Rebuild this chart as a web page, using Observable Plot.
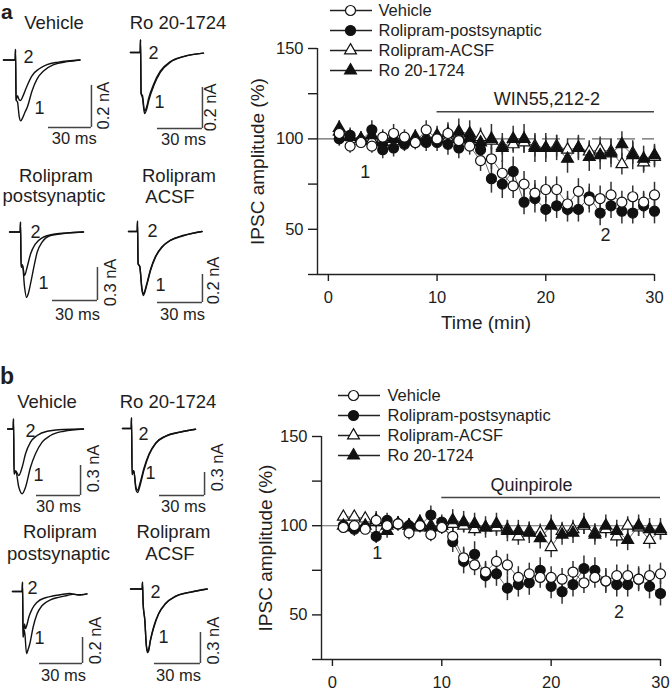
<!DOCTYPE html>
<html><head><meta charset="utf-8">
<script src="https://cdn.jsdelivr.net/npm/d3@7"></script>
<script src="https://cdn.jsdelivr.net/npm/@observablehq/plot@0.6"></script>
<style>
body{margin:0;background:#fff;}
#fig{position:relative;width:672px;height:694px;overflow:hidden;font-family:"Liberation Sans",Arial,Helvetica,sans-serif;color:#1e1e1e;}
#fig svg{position:absolute;}
.lbl{position:absolute;white-space:nowrap;line-height:1;transform:translateX(-50%);}
.letter{position:absolute;font-weight:bold;line-height:normal;}
</style></head><body><div id="fig"></div>
<script>
// ---------------- DATA ----------------
const timeMin = [1,2,3,4,5,6,7,8,9,10,11,12,13,14,15,16,17,18,19,20,21,22,23,24,25,26,27,28,29,30];
const seriesNames = ["Vehicle","Rolipram-postsynaptic","Rolipram-ACSF","Ro 20-1724"];

// Panel a (WIN55,212-2)
const vehicleA = [103,96,98,96,101,103,101,98,105,100,103,99,96,88,89,81,74,75,70,72,72,64,71,66,67,69,65,68,65,69];
const postA    = [100,102,99,105,94,95,97,98,98,98,97,95,99,94,78,75,82,65,67,61,63,61,61,68,59,63,60,59,63,60];
const acsfA    = [104,101,100,99,100,101,99,100,101,100,100,101,100,101,99,96,97,98,96,95,96,94,95,93,94,93,86,92,87,90];
const roA      = [106,101,100,102,98,100,99,101,100,102,103,104,103,98,100,95,100,100,95,95,95,89,95,90,91,92,97,91,89,91];
const semVehicleA = [4,4,3,4,4,5,4,4,5,4,5,5,5,6,6,7,7,7,7,7,7,7,7,7,7,7,6,6,6,7];
const semPostA    = [4,4,4,5,5,5,4,4,5,5,6,6,6,7,8,8,8,7,8,7,7,7,7,7,7,7,7,6,7,7];
const semAcsfA    = [3,3,3,3,3,3,3,3,3,4,4,4,4,5,5,5,5,6,6,6,6,6,6,6,7,7,6,6,6,6];
const semRoA      = [4,4,4,4,4,4,4,4,5,5,6,7,7,7,8,8,7,8,8,8,7,8,7,8,8,8,7,8,7,6];

// Panel b (Quinpirole)
const vehicleB = [99,100,98,103,100,101,96,100,95,99,94,82,78,74,80,78,71,73,71,71,70,74,68,71,69,72,72,70,72,73];
const postB    = [100,98,99,94,103,101,100,100,106,102,91,80,84,72,73,65,67,68,75,66,63,67,76,75,69,67,67,70,66,62];
const acsfB    = [105,105,104,102,100,101,100,99,100,100,101,100,98,99,99,98,94,97,96,88,97,98,100,96,98,94,100,99,92,97];
const roB      = [100,99,100,103,97,101,100,102,99,100,103,102,101,99,101,97,97,96,93,100,95,96,101,95,100,97,92,100,98,98];
const semVehicleB = [3,3,3,4,3,3,4,3,4,4,5,6,6,6,6,6,6,6,6,6,6,6,6,6,6,6,6,6,6,6];
const semPostB    = [3,4,3,4,4,4,3,4,5,4,6,7,7,7,7,7,7,7,7,7,7,7,7,7,7,7,7,7,7,7];
const semAcsfB    = [3,3,3,3,3,3,3,3,3,3,4,4,4,4,5,5,5,5,5,6,5,5,5,5,5,6,5,5,5,5];
const semRoB      = [4,4,4,5,4,4,4,4,4,4,6,6,6,6,6,6,6,6,6,6,6,6,6,6,6,6,6,6,6,6];

const yTicks = [25,50,75,100,125,150];
const yTickLabels = [50,100,150];
const xTicks = [0,10,20,30];
const drugA = {label:"WIN55,212-2", start:10, end:30, level:115, tx:20.1, ty:122};
const drugB = {label:"Quinpirole", start:10, end:30, level:115.8, tx:18.2, ty:122.5};
const markersA = [{text:"1", t:3.4, v:81.4},{text:"2", t:25.5, v:46.6}];
const markersB = [{text:"1", t:4.1, v:84.4},{text:"2", t:26.2, v:51.3}];

// IPSC traces: [time (ms) from stimulus, current (nA)]; trace 1 = baseline, trace 2 = after drug
const traceVehA1 = [[-8.4,0],[-0.2,0],[0,0.05],[0.4,-0.19],[1.4,-0.2],[2.6,-0.27],[3.6,-0.29],[5,-0.275],[6.5,-0.25],[8.2,-0.225],[11.6,-0.146],[15.1,-0.09],[19.8,-0.051],[26.7,-0.022],[36,-0.008],[45,0]];
const traceVehA2 = [[-8.4,0],[-0.2,0],[0,0.05],[0.4,-0.19],[1.4,-0.17],[2.6,-0.19],[3.6,-0.193],[5,-0.175],[6.5,-0.15],[8.2,-0.121],[11.6,-0.074],[16.3,-0.043],[22,-0.022],[30,-0.01],[45,0]];
const traceRoA1 = [[-6.7,0],[-0.2,0],[0,0.063],[0.4,-0.2],[1.3,-0.22],[2.7,-0.298],[4,-0.28],[5.5,-0.234],[8.9,-0.161],[13.3,-0.096],[20,-0.047],[28.9,-0.02],[42,-0.003]];
const traceRoA2 = [[-6.7,0],[-0.2,0],[0,0.063],[0.4,-0.2],[1.3,-0.21],[2.7,-0.285],[4,-0.268],[5.5,-0.222],[8.9,-0.152],[13.3,-0.09],[20,-0.044],[28.9,-0.019],[42,-0.003]];
const tracePostA1 = [[-7.3,0],[-0.2,0],[0,0.089],[0.4,-0.32],[1.3,-0.3],[2.7,-0.5],[4,-0.595],[5.2,-0.56],[6.7,-0.47],[8.9,-0.32],[11.1,-0.184],[14.4,-0.093],[20,-0.032],[31,-0.01],[42,0]];
const tracePostA2 = [[-7.3,0],[-0.2,0],[0,0.089],[0.4,-0.32],[1.3,-0.3],[2.7,-0.395],[4.4,-0.32],[6.7,-0.2],[10,-0.107],[14.4,-0.053],[22,-0.02],[42,0]];
const traceAcsfA1 = [[-6,0],[-0.2,0],[0,0.074],[0.4,-0.23],[1.5,-0.25],[3,-0.42],[4,-0.457],[5,-0.43],[6.4,-0.374],[8.7,-0.279],[12,-0.184],[16.4,-0.112],[22,-0.064],[31,-0.029],[43,0]];
const traceAcsfA2 = [[-6,0],[-0.2,0],[0,0.074],[0.4,-0.23],[1.5,-0.25],[3,-0.41],[4,-0.445],[5,-0.42],[6.4,-0.365],[8.7,-0.27],[12,-0.178],[16.4,-0.108],[22,-0.061],[31,-0.027],[43,0]];
const traceVehB1 = [[-4,0],[-0.2,0],[0,0.1],[0.4,-0.45],[1.5,-0.42],[3.6,-0.58],[5.9,-0.648],[8.2,-0.582],[11.6,-0.382],[15,-0.248],[19.5,-0.132],[25.2,-0.065],[34.3,-0.022],[47.7,0]];
const traceVehB2 = [[-4,0],[-0.2,0],[0,0.1],[0.4,-0.45],[1.5,-0.42],[3.6,-0.465],[5.9,-0.382],[8.2,-0.248],[11.6,-0.132],[16.1,-0.065],[23,-0.022],[34,-0.005],[47.7,0]];
const traceRoB1 = [[-6,0],[-0.2,0],[0,0.14],[0.4,-0.6],[1.5,-0.55],[3,-0.8],[4,-0.835],[6,-0.72],[8.2,-0.55],[11.6,-0.35],[16,-0.2],[22.7,-0.104],[32.7,-0.048],[42.7,-0.01]];
const traceRoB2 = [[-6,0],[-0.2,0],[0,0.14],[0.4,-0.6],[1.5,-0.55],[3,-0.77],[4,-0.805],[6,-0.69],[8.2,-0.525],[11.6,-0.335],[16,-0.19],[22.7,-0.098],[32.7,-0.045],[42.7,-0.01]];
const tracePostB1 = [[-7,0],[-0.2,0],[0,0.072],[0.4,-0.35],[1.4,-0.3],[2.8,-0.477],[3.8,-0.45],[5.1,-0.402],[7.4,-0.275],[10.2,-0.172],[13.7,-0.108],[19.5,-0.064],[25,-0.045],[31.2,-0.031],[36,-0.02],[40,-0.028],[45,-0.018]];
const tracePostB2 = [[-7,0],[-0.2,0],[0,0.072],[0.4,-0.35],[1.4,-0.25],[2.1,-0.285],[3,-0.26],[4.4,-0.198],[6.8,-0.133],[10.2,-0.082],[16,-0.048],[21,-0.035],[26.5,-0.025],[33,-0.015],[38,-0.025],[45,-0.018]];
const traceAcsfB1 = [[-7.8,0],[-0.2,0],[0,0.066],[0.4,-0.143],[1.5,-0.3],[2.5,-0.55],[3.3,-0.615],[4,-0.6],[5.2,-0.5],[7.4,-0.37],[10.6,-0.24],[15,-0.143],[21.5,-0.073],[31.3,-0.031],[42.2,0]];
const traceAcsfB2 = [[-7.8,0],[-0.2,0],[0,0.066],[0.4,-0.143],[1.5,-0.3],[2.5,-0.54],[3.3,-0.6],[4,-0.585],[5.2,-0.49],[7.4,-0.36],[10.6,-0.235],[15,-0.14],[21.5,-0.07],[31.3,-0.03],[42.2,0]];

// scale bars: 30 ms and n nA
const barMs = 30;
const barNA = [0.2,0.2,0.3,0.2, 0.3,0.3,0.2,0.3];

const insetTitles = [["Vehicle"],["Ro 20-1724"],["Rolipram","postsynaptic"],["Rolipram","ACSF"],
                     ["Vehicle"],["Ro 20-1724"],["Rolipram","postsynaptic"],["Rolipram","ACSF"]];
const panelLetters = ["a","b"];

// ---------------- LAYOUT ----------------
const FONT = "'Liberation Sans', Arial, Helvetica, sans-serif";
const baseStyle = {background:"transparent", overflow:"visible", fontFamily:FONT, color:"#1e1e1e", fontSize:"16.5px"};
const fig = document.getElementById("fig");
function put(el, left, top){ el.style.left = left + "px"; el.style.top = top + "px"; fig.appendChild(el); }

const symStyles = [
  {symbol:"circle", fill:"white", r:5},
  {symbol:"circle", fill:"#111", r:5},
  {symbol:"triangle", fill:"white", r:4.4},
  {symbol:"triangle", fill:"#111", r:4.4}
];

function rows(values, sem, name){
  return timeMin.map((t,i)=>({t, v:values[i], lo:values[i]-sem[i], hi:values[i]+sem[i], s:name}));
}

function timeCourse(cfg){
  const xDom = [-1,30], yDom = [25,150];
  const series = cfg.series.map((s,k)=>rows(s.v, s.sem, seriesNames[k]));
  const all = series.flat();
  const order = [2,3,1,0];
  const marks = [
    Plot.ruleY([100], {x1:xDom[0], x2:xDom[1], stroke:"#666", strokeWidth:1.1, strokeDasharray: cfg.dashed ? "18,7" : null}),
    Plot.ruleX([xDom[0]], {y1:yDom[0], y2:yDom[1], stroke:"#222", strokeWidth:1.4}),
    Plot.ruleY([yDom[0]], {x1:xDom[0], x2:xDom[1], stroke:"#222", strokeWidth:1.4}),
    Plot.axisX({ticks:xTicks, tickSize:7, tickPadding:10, fontSize:16.5, strokeWidth:1.4, label:null}),
    Plot.axisY({ticks:yTicks, tickFormat:d => yTickLabels.includes(d) ? d : "", tickSize:9, tickPadding:5, fontSize:16.5, strokeWidth:1.4, label:null}),
    Plot.text(["IPSC amplitude (%)"], {frameAnchor:"left", dx:cfg.ylabelDx, rotate:-90, textAnchor:"middle", lineAnchor:"middle", fontSize:19}),
    Plot.ruleY([cfg.drug], {y:"level", x1:"start", x2:"end", stroke:"#444", strokeWidth:1.4}),
    Plot.text([cfg.drug], {x:"tx", y:"ty", text:"label", fontSize:18}),
    Plot.line(all, {x:"t", y:"v", z:"s", stroke:"#444", strokeWidth:0.8}),
    Plot.ruleX(all, {x:"t", y1:"lo", y2:"hi", stroke:"#333", strokeWidth:1.5}),
    ...order.map(k => Plot.dot(series[k], {x:"t", y:"v", symbol:symStyles[k].symbol, r:symStyles[k].r, fill:symStyles[k].fill, stroke:"#111", strokeWidth:1.2})),
    Plot.text(cfg.markers, {x:"t", y:"v", text:"text", fontSize:18})
  ];
  if (cfg.xlabel) marks.push(Plot.text([cfg.xlabel], {frameAnchor:"bottom", dy:48, fontSize:19, textAnchor:"middle", lineAnchor:"middle"}));
  return Plot.plot({
    width:cfg.W, height:cfg.H, marginLeft:cfg.mL, marginRight:cfg.mR, marginTop:cfg.mT, marginBottom:cfg.mB,
    x:{domain:xDom}, y:{domain:yDom},
    style:baseStyle, marks
  });
}

function legend(cfg){
  return Plot.plot({
    width:260, height:90, margin:0, style:baseStyle,
    x:{domain:[0,260], range:[0,260], axis:null},
    y:{type:"point", domain:seriesNames, range:cfg.rows, padding:0, axis:null},
    marks:[
      Plot.ruleY(seriesNames, {y:d=>d, x1:cfg.line[0], x2:cfg.line[1], stroke:"#222", strokeWidth:1.3}),
      ...seriesNames.map((n,k)=>Plot.dot([n], {y:d=>d, x:cfg.dot, symbol:symStyles[k].symbol, r:symStyles[k].r, fill:symStyles[k].fill, stroke:"#111", strokeWidth:1.2})),
      Plot.text(seriesNames, {y:d=>d, x:cfg.text, text:d=>d, textAnchor:"start", lineAnchor:"middle", fontSize:16.5})
    ]
  });
}

function inset(c){
  const {L,T,W,H,ox,oy,kx,ky} = c.box;
  const bar = {t0:c.bar[0], t1:c.bar[0]+barMs, i:c.bar[1], i2:c.bar[1]+c.nA};
  return Plot.plot({
    width:W, height:H, margin:0, style:baseStyle,
    x:{domain:[(L-ox)/kx, (L+W-ox)/kx], range:[0,W], axis:null},
    y:{domain:[(oy-T-H)/ky, (oy-T)/ky], range:[H,0], axis:null},
    marks:[
      Plot.line(c.tr2, {x:d=>d[0], y:d=>d[1], stroke:"#111", strokeWidth:1.4, curve:"monotone-x"}),
      Plot.line(c.tr1, {x:d=>d[0], y:d=>d[1], stroke:"#111", strokeWidth:1.4, curve:"monotone-x"}),
      Plot.ruleY([bar], {y:"i", x1:"t0", x2:"t1", stroke:"#444", strokeWidth:1.5}),
      Plot.ruleX([bar], {x:"t1", y1:"i", y2:"i2", stroke:"#444", strokeWidth:1.5}),
      Plot.text(c.nums, {x:d=>d[1], y:d=>d[2], text:d=>d[0], fontSize:18}),
      Plot.text([c.nA + " nA"], {x:c.nALab[0], y:c.nALab[1], rotate:-90, fontSize:16.5}),
      Plot.text([barMs + " ms"], {x:c.msLab[0], y:c.msLab[1], fontSize:16.5})
    ]
  });
}

// main time-course plots
put(timeCourse({W:432, H:345, mL:77, mR:18, mT:48, mB:71, dashed:true, ylabelDx:-60, drug:drugA, markers:markersA, xlabel:"Time (min)",
  series:[{v:vehicleA, sem:semVehicleA},{v:postA, sem:semPostA},{v:acsfA, sem:semAcsfA},{v:roA, sem:semRoA}]}), 240, 0);
put(timeCourse({W:432, H:324, mL:81, mR:12, mT:66, mB:35, dashed:false, ylabelDx:-56, drug:drugB, markers:markersB, xlabel:null,
  series:[{v:vehicleB, sem:semVehicleB},{v:postB, sem:semPostB},{v:acsfB, sem:semAcsfB},{v:roB, sem:semRoB}]}), 240, 370);

put(legend({rows:[9.5,70], line:[10,52], dot:30, text:58}), 320, 0);
put(legend({rows:[14,75], line:[18,60], dot:33, text:67}), 320, 380);

// insets
const insets = [
  {box:{L:0,T:35,W:125,H:115,ox:15,oy:59.5,kx:1.433,ky:210}, tr1:traceVehA1, tr2:traceVehA2, bar:[23,-0.321], nums:[["2",9.1,0.012],["1",16.7,-0.231]], nALab:[61.4,-0.217], msLab:[41,-0.374]},
  {box:{L:120,T:35,W:125,H:115,ox:140,oy:52,kx:1.5,ky:205}, tr1:traceRoA1, tr2:traceRoA2, bar:[11.3,-0.371], nums:[["2",8.7,-0.005],["1",12.7,-0.244]], nALab:[46.7,-0.268], msLab:[28.7,-0.424]},
  {box:{L:0,T:210,W:125,H:120,ox:20,oy:231.5,kx:1.5,ky:110}, tr1:tracePostA1, tr2:tracePostA2, bar:[21.3,-0.623], nums:[["2",10,-0.005],["1",15.3,-0.468]], nALab:[60,-0.459], msLab:[38,-0.75]},
  {box:{L:120,T:210,W:125,H:120,ox:137,oy:231,kx:1.5,ky:140}, tr1:traceAcsfA1, tr2:traceAcsfA2, bar:[13.3,-0.507], nums:[["2",10,0],["1",15.3,-0.386]], nALab:[50.7,-0.35], msLab:[30,-0.593]},
  {box:{L:0,T:410,W:125,H:110,ox:13,oy:428.5,kx:1.467,ky:100}, tr1:traceVehB1, tr2:traceVehB2, bar:[15.7,-0.665], nums:[["2",11.6,-0.025],["1",17,-0.465]], nALab:[54.5,-0.395], msLab:[30.7,-0.775]},
  {box:{L:120,T:410,W:125,H:110,ox:131,oy:428,kx:1.5,ky:76.7}, tr1:traceRoB1, tr2:traceRoB2, bar:[18.7,-0.874], nums:[["2",8,-0.078],["1",12.7,-0.587]], nALab:[57.3,-0.508], msLab:[34.7,-1.017]},
  {box:{L:0,T:570,W:125,H:115,ox:22,oy:591,kx:1.433,ky:130}, tr1:tracePostB1, tr2:tracePostB2, bar:[11.9,-0.554], nums:[["2",7,0.023],["1",11.9,-0.36]], nALab:[51,-0.377], msLab:[28.6,-0.646]},
  {box:{L:120,T:570,W:125,H:115,ox:142,oy:588.5,kx:1.533,ky:103.3}, tr1:traceAcsfB1, tr2:traceAcsfB2, bar:[7.8,-0.721], nums:[["2",8.5,-0.034],["1",13.7,-0.47]], nALab:[46.3,-0.499], msLab:[23.5,-0.837]}
];
insets.forEach((c,k)=>{ c.nA = barNA[k]; put(inset(c), c.box.L, c.box.T); });

// inset titles (centre x, cap-centre y of each line)
const titlePos = [
  [[54,23.5]], [[178,23.5]], [[56,176],[54,196.5]], [[179,176],[170,197.5]],
  [[47,401.7]], [[168,401.7]], [[60,532.5],[58.5,554]], [[173.5,532.5],[170,554]]
];
const TF = 18.5;
insetTitles.forEach((lines,k)=>lines.forEach((txt,j)=>{
  const d = document.createElement("div");
  d.className = "lbl"; d.style.fontSize = TF + "px"; d.textContent = txt;
  put(d, titlePos[k][j][0], titlePos[k][j][1] - 0.49*TF);
}));

// panel letters (left, top, font size)
const letterPos = [[1,0,21],[0,362.5,23]];
panelLetters.forEach((t,k)=>{
  const d = document.createElement("div"); d.className = "letter"; d.textContent = t;
  d.style.fontSize = letterPos[k][2] + "px";
  put(d, letterPos[k][0], letterPos[k][1]);
});
</script></body></html>
